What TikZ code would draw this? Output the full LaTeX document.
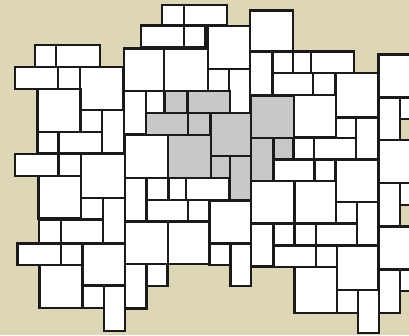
\documentclass[tikz,border=0pt]{standalone}
\usetikzlibrary{}
\definecolor{bgbeige}{RGB}{221,215,184}
\definecolor{tilegray}{RGB}{200,200,200}
\definecolor{grout}{RGB}{26,26,26}
\begin{document}
\begin{tikzpicture}[x=1pt,y=-1pt,
  tile/.style={draw=grout,fill=white,line width=2.6pt},
  graytile/.style={draw=grout,fill=tilegray,line width=2.6pt}]
\useasboundingbox (0,0) rectangle (409,335);
\fill[bgbeige] (0,0) rectangle (409,335);
\clip (0,0) rectangle (409,335);
% white tiles
\foreach \a/\b/\c/\d in {
 162/5/184/25.5, 184/5/227/25.5, 141/25.5/184/47.5, 184/25.5/205.5/47.5,
 207.5/26/250/69, 250/10.5/293/51.5, 124/48.5/164/91, 164/48.5/208/91,
 208/69/229/91, 229/69/250.5/113, 250/51.5/272.5/95.5, 272.5/51.5/293/73,
 293/51.5/311/73, 311/51.5/354/73, 272.5/73/313/95, 313/73/335.5/95,
 336/73/378.5/117.5, 378.5/54.5/421/97.5, 378.5/97.5/400/140, 400/97.5/421/119,
 35/45/56/67, 56/45/100/67, 15/67/58/89, 58/67/80/89, 80/67/123.5/110,
 37.5/89/80.5/132, 80.5/110/102/132, 102/110/124.5/153, 37.5/132/58.5/153.5,
 58.5/132/102/153.5, 15/154/58.5/176, 58.5/154/81/176, 81/154/125/198,
 38.5/176/81/218.5, 81/198/103/219.5, 103/198/125/243.5, 39/219.5/61/243.5,
 61/219.5/103/243.5, 17.5/243.5/61/265, 61/243.5/82.5/265, 82.5/243.5/125/285.5,
 39.5/265/82.5/308, 82.5/285.5/104/308, 104/285.5/125/331,
 124/91/146/134, 146/91/164.5/113,
 294/95/336/137.5, 336/117.5/356/138, 356/117.5/378.5/159.5,
 125/135/168/178, 293.5/138/314/159.5, 314/138/356/159.5, 378.5/140/421/183,
 273.5/159.5/314.5/181, 314.5/159.5/335.5/181, 335.5/159.5/378.5/202,
 125/178/146.5/221.5, 146.5/178/168.5/200, 168.5/178/186/200, 186/178/229/200,
 146.5/200/188/221, 188/200/209.5/221, 209.5/201/251/243.7,
 251/181/294.5/223.3, 294.5/181/336/223, 336/202/357/223, 357/202/378.5/245,
 378.5/183/400/226.3, 400/183/421/205,
 125/221.5/168/264, 168/221.5/209.5/264, 125/264/146.5/308.5, 146.5/264/167.5/286,
 209.5/243.7/230.5/265, 230.5/243.7/251/286, 251/223.3/273.5/266.5,
 273.5/223.3/294.5/245.5, 294.5/223.3/316/245.5, 316/223.3/357/245.5,
 378.5/226.3/421/269.5, 273.5/245.5/316/267, 316/245.5/337/267,
 337/245.5/378.5/290, 294.5/267/337/313, 337/290/358/313, 358/290/379/333,
 379/269.5/400/313, 400/269.5/421/291}
  \draw[tile] (\a,\b) rectangle (\c,\d);
% grey tiles (one period of the pattern)
\foreach \a/\b/\c/\d in {
 164.5/91/187/113, 188/91/230/113, 146/113/188/135, 188/113/210.5/135,
 210.5/113/251/156, 251/95.5/294/138, 168/135/211/178, 211/156/230/178,
 230/156/251/200, 251/138/273.5/181, 273.5/138/293.5/159.5}
  \draw[graytile] (\a,\b) rectangle (\c,\d);
\end{tikzpicture}
\end{document}
